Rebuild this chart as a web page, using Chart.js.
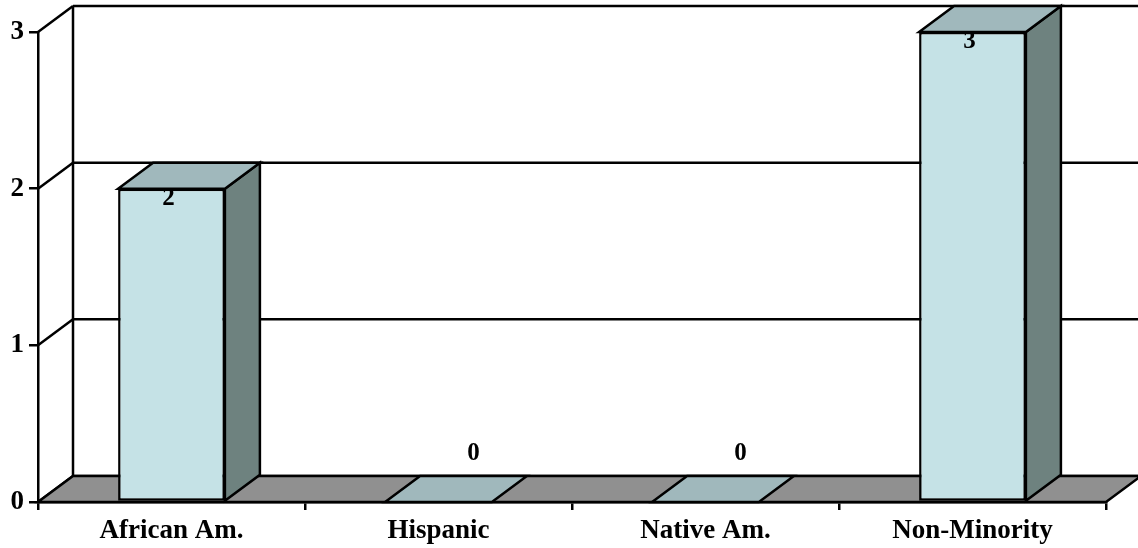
<!DOCTYPE html>
<html>
<head>
<meta charset="utf-8">
<script src="https://cdn.jsdelivr.net/npm/chart.js@4/dist/chart.umd.min.js"></script>
<style>
  html, body { margin: 0; padding: 0; background: #fff; }
  #wrap { width: 1138px; height: 548px; position: relative; }
</style>
</head>
<body>
<div id="wrap"><canvas id="chart"></canvas></div>
<script>
// Chart data
const categories = ['African Am.', 'Hispanic', 'Native Am.', 'Non-Minority'];
const counts = [2, 0, 0, 3];
const yTicks = [0, 1, 2, 3];

// 3D look: depth offset of the back wall
const DEPTH_X = 35;
const DEPTH_Y = -26;
const FONT = '"Liberation Serif", "Times New Roman", serif';

const FRONT_COLOR = '#c5e2e6';
const TOP_COLOR = '#a0b8bc';
const SIDE_COLOR = '#6e827f';
const FLOOR_COLOR = '#909090';

function poly(ctx, pts, fill) {
    ctx.beginPath();
    ctx.moveTo(pts[0][0], pts[0][1]);
    for (let i = 1; i < pts.length; i++) ctx.lineTo(pts[i][0], pts[i][1]);
    ctx.closePath();
    if (fill) {
        ctx.fillStyle = fill;
        ctx.fill();
    }
    ctx.stroke();
}

// Draws back wall gridlines, left wall diagonals and the floor
const wallsPlugin = {
    id: 'walls',
    beforeDatasetsDraw(chart) {
        const { ctx, chartArea, scales } = chart;
        const y = scales.y;
        ctx.save();
        ctx.strokeStyle = '#000';
        ctx.lineWidth = 2.5;
        const backLeft = chartArea.left + DEPTH_X;
        const backRight = chart.width;

        yTicks.forEach(v => {
            const py = y.getPixelForValue(v);
            // back wall gridline
            ctx.beginPath();
            ctx.moveTo(backLeft, py + DEPTH_Y);
            ctx.lineTo(backRight, py + DEPTH_Y);
            ctx.stroke();
            // diagonal on the side wall
            ctx.beginPath();
            ctx.moveTo(chartArea.left, py);
            ctx.lineTo(backLeft, py + DEPTH_Y);
            ctx.stroke();
        });

        // back wall left edge
        ctx.beginPath();
        ctx.moveTo(backLeft, y.getPixelForValue(yTicks[yTicks.length - 1]) + DEPTH_Y);
        ctx.lineTo(backLeft, y.getPixelForValue(0) + DEPTH_Y);
        ctx.stroke();

        // floor
        const y0 = y.getPixelForValue(0);
        poly(ctx, [
            [chartArea.left, y0],
            [chartArea.right, y0],
            [chartArea.right + DEPTH_X, y0 + DEPTH_Y],
            [chartArea.left + DEPTH_X, y0 + DEPTH_Y]
        ], FLOOR_COLOR);
        ctx.restore();
    },
    afterDatasetsDraw(chart) {
        const { ctx } = chart;
        const meta = chart.getDatasetMeta(0);
        ctx.save();
        ctx.strokeStyle = '#000';
        ctx.lineWidth = 2.5;
        ctx.lineJoin = 'miter';
        meta.data.forEach((bar, i) => {
            const p = bar.getProps(['x', 'y', 'base', 'width'], true);
            const left = p.x - p.width / 2;
            const right = p.x + p.width / 2;
            const top = p.y;
            const bottom = p.base;
            // side face
            if (bottom - top > 0.5) {
                poly(ctx, [
                    [right, top],
                    [right + DEPTH_X, top + DEPTH_Y],
                    [right + DEPTH_X, bottom + DEPTH_Y],
                    [right, bottom]
                ], SIDE_COLOR);
            }
            // top face
            poly(ctx, [
                [left, top],
                [left + DEPTH_X, top + DEPTH_Y],
                [right + DEPTH_X, top + DEPTH_Y],
                [right, top]
            ], TOP_COLOR);

            // value label
            ctx.fillStyle = '#000';
            ctx.font = 'bold 25px ' + FONT;
            ctx.textAlign = 'center';
            ctx.textBaseline = 'middle';
            const v = counts[i];
            if (v === 0) {
                ctx.fillText(String(v), p.x + DEPTH_X, top + DEPTH_Y - 22);
            } else {
                ctx.fillText(String(v), p.x - 3, top + 10);
            }
        });
        ctx.restore();
    }
};

const canvas = document.getElementById('chart');
new Chart(canvas.getContext('2d'), {
    type: 'bar',
    data: {
        labels: categories,
        datasets: [{
            data: counts,
            backgroundColor: FRONT_COLOR,
            borderColor: '#000',
            borderWidth: 2.5,
            borderSkipped: false,
            categoryPercentage: 1,
            barPercentage: 0.4
        }]
    },
    options: {
        responsive: true,
        maintainAspectRatio: false,
        animation: false,
        layout: {
            padding: { top: 32, right: 32, left: 0, bottom: 0 }
        },
        plugins: {
            legend: { display: false },
            tooltip: { enabled: false }
        },
        scales: {
            x: {
                afterFit(scale) { scale.height = 46; },
                grid: {
                    display: true,
                    drawOnChartArea: false,
                    drawTicks: true,
                    tickLength: 8,
                    color: '#000',
                    lineWidth: 2.5
                },
                border: { display: true, color: '#000', width: 2.5 },
                ticks: {
                    color: '#000',
                    padding: 5,
                    maxRotation: 0,
                    font: { family: FONT, size: 27, weight: 'bold' }
                }
            },
            y: {
                min: 0,
                max: 3,
                afterFit(scale) { scale.width = 38; },
                afterBuildTicks(scale) {
                    scale.ticks = yTicks.map(v => ({ value: v }));
                },
                grid: {
                    display: true,
                    drawOnChartArea: false,
                    drawTicks: true,
                    tickLength: 9,
                    color: '#000',
                    lineWidth: 2.5
                },
                border: { display: true, color: '#000', width: 2.5 },
                ticks: {
                    color: '#000',
                    padding: 5,
                    font: { family: FONT, size: 27, weight: 'bold' }
                }
            }
        }
    },
    plugins: [wallsPlugin]
});
</script>
</body>
</html>
